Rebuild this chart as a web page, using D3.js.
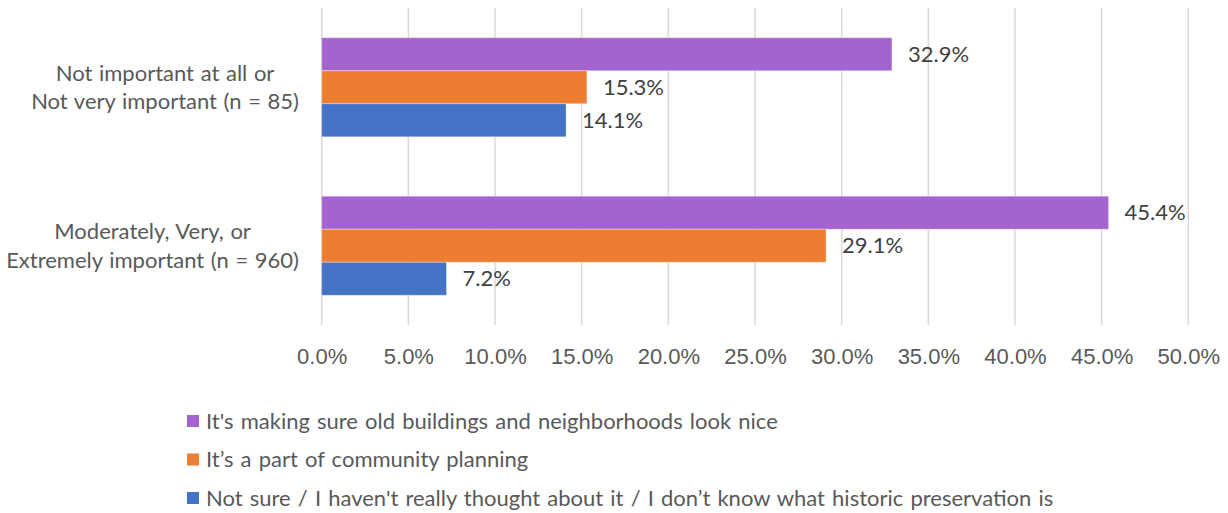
<!DOCTYPE html>
<html>
<head>
<meta charset="utf-8">
<script src="https://cdn.jsdelivr.net/npm/d3@7"></script>
<style>
  html, body { margin: 0; padding: 0; background: #fff; }
  svg { display: block; font-family: Lato, "Open Sans", sans-serif; }
</style>
</head>
<body>
<svg id="chart" width="1228" height="513"></svg>
<script>
// Categories (top to bottom) and their two-line labels
const categories = ["low", "high"];
const categoryLabels = [
  ["Not important at all or", "Not very important (n = 85)"],
  ["Moderately, Very, or", "Extremely important (n = 960)"]
];

// Series, in bar order within each group
const seriesNames = [
  "It's making sure old buildings and neighborhoods look nice",
  "It\u2019s a part of community planning",
  "Not sure / I haven't really thought about it / I don\u2019t know what historic preservation is"
];
const seriesColors = ["#A464D0", "#ED7D31", "#4472C4"];

// Percent values per series, one entry per category
const lookNice = [32.9, 45.4];
const communityPlanning = [15.3, 29.1];
const notSure = [14.1, 7.2];
const seriesValues = [lookNice, communityPlanning, notSure];

// Axis ticks
const tickValues = [0, 5, 10, 15, 20, 25, 30, 35, 40, 45, 50];

const FONT_SIZE = 22;
const svg = d3.select("#chart");
const plot = { left: 321.7, right: 1188.3, top: 8, bottom: 325 };

const x = d3.scaleLinear().domain([0, 50]).range([plot.left, plot.right]);
const y0 = d3.scaleBand().domain(categories).range([plot.top, plot.bottom]).padding(0);
const y1 = d3.scaleBand().domain(d3.range(seriesNames.length))
  .range([0, y0.bandwidth()]).paddingInner(0).paddingOuter(0.9);

// Vertical gridlines
svg.append("g")
  .selectAll("line")
  .data(tickValues)
  .join("line")
  .attr("x1", d => x(d)).attr("x2", d => x(d))
  .attr("y1", plot.top).attr("y2", plot.bottom)
  .attr("stroke", "#d9d9d9").attr("stroke-width", 1.5);

// Bars
const rows = [];
categories.forEach((c, ci) => {
  seriesValues.forEach((vals, si) => {
    rows.push({ cat: c, si, value: vals[ci] });
  });
});

svg.append("g")
  .selectAll("rect")
  .data(rows)
  .join("rect")
  .attr("x", x(0))
  .attr("y", d => y0(d.cat) + y1(d.si))
  .attr("width", d => x(d.value) - x(0))
  .attr("height", y1.bandwidth())
  .attr("fill", d => seriesColors[d.si])
  .attr("stroke", "#ffffff").attr("stroke-opacity", 0.35).attr("stroke-width", 1);

// Value labels
svg.append("g")
  .selectAll("text")
  .data(rows)
  .join("text")
  .attr("x", d => x(d.value) + 16)
  .attr("y", d => y0(d.cat) + y1(d.si) + y1.bandwidth() / 2)
  .attr("dy", "0.35em")
  .attr("fill", "#404040")
  .attr("font-size", FONT_SIZE)
  .text(d => d.value.toFixed(1) + "%");

// X axis tick labels
const xAxis = d3.axisBottom(x).tickValues(tickValues)
  .tickSize(0).tickPadding(0)
  .tickFormat(d => d.toFixed(1) + "%");
const axisG = svg.append("g")
  .attr("transform", `translate(0,${plot.bottom + 25})`)
  .call(xAxis);
axisG.select(".domain").remove();
axisG.selectAll("text")
  .attr("fill", "#595959")
  .attr("font-size", FONT_SIZE)
  .attr("font-family", null)
  .attr("dy", "0.35em")
  .attr("y", 6);

// Category labels: lines centred on each other, block right-aligned
const catG = svg.append("g");
categories.forEach((c, ci) => {
  const lines = categoryLabels[ci];
  const cy = y0(c) + y0.bandwidth() / 2;
  const lh = 28.5;
  const t = catG.append("text")
    .attr("fill", "#595959")
    .attr("font-size", FONT_SIZE)
    .attr("word-spacing", 1)
    .attr("text-anchor", "middle");
  const spans = lines.map((ln, li) =>
    t.append("tspan")
      .attr("y", cy + (li - (lines.length - 1) / 2) * lh)
      .attr("dy", "0.35em")
      .text(ln));
  const maxW = d3.max(spans, s => s.node().getComputedTextLength());
  spans.forEach(s => s.attr("x", 299 - maxW / 2));
});

// Legend
const legend = svg.append("g");
seriesNames.forEach((name, i) => {
  const cy = 421 + i * 38.5;
  legend.append("rect")
    .attr("x", 187).attr("y", cy - 6)
    .attr("width", 12).attr("height", 12)
    .attr("fill", seriesColors[i]);
  legend.append("text")
    .attr("x", 206).attr("y", cy)
    .attr("dy", "0.35em")
    .attr("fill", "#595959")
    .attr("font-size", FONT_SIZE)
    .attr("word-spacing", 1.5)
    .text(name);
});
</script>
</body>
</html>
